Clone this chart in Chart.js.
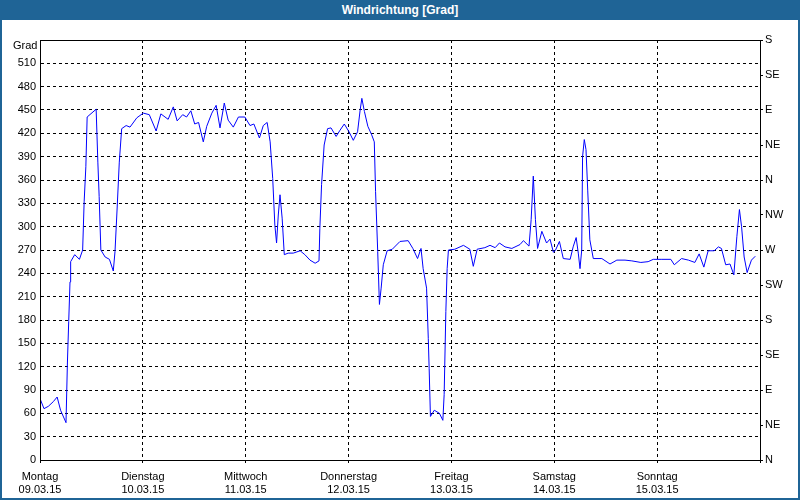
<!DOCTYPE html>
<html>
<head>
<meta charset="utf-8">
<script src="https://cdn.jsdelivr.net/npm/chart.js@4"></script>
<style>
  body { margin: 0; background: #fff; }
  #wrap { position: relative; width: 800px; height: 500px; overflow: hidden; }
  #chart { position: absolute; left: 0; top: 0; }
  #title { position: absolute; left: 0; top: 0; width: 800px; height: 20px; background: #1f6496; color: #fff;
    font: bold 12px "Liberation Sans", Arial, sans-serif; line-height: 20px; text-align: center; }
  #frame { position: absolute; left: 0; top: 0; width: 800px; height: 500px; box-sizing: border-box;
    border: 2px solid #1f6496; border-top: none; pointer-events: none; }
  #unit { position: absolute; left: 13px; top: 39px; font: 11px "Liberation Sans", Arial, sans-serif; color: #000; }
</style>
</head>
<body>
<div id="wrap">
  <canvas id="chart" width="800" height="500"></canvas>
  <div id="title">Windrichtung [Grad]</div>
  <div id="unit">Grad</div>
  <div id="frame"></div>
</div>
<script>
const dayNames = ["Montag", "Dienstag", "Mittwoch", "Donnerstag", "Freitag", "Samstag", "Sonntag"];
const dates = ["09.03.15", "10.03.15", "11.03.15", "12.03.15", "13.03.15", "14.03.15", "15.03.15"];
const compassLabels = ["N", "NE", "E", "SE", "S", "SW", "W", "NW", "N", "NE", "E", "SE", "S"];

// hours since Monday 00:00
const hours = [
  0, 0.93, 1.94, 3.1, 4.0, 4.8, 6.07, 6.4, 6.7, 7.0, 7.15, 8.1, 9.2, 9.95, 10.3, 10.7, 11.0,
  13.1, 13.5, 13.8, 14.2, 15.2, 16.2, 17.1, 17.5, 18.0, 18.5, 19.06, 20.1, 21, 22.6, 24.1,
  25.5, 27.1, 28.2, 29.9, 31.1, 32.0, 33.3, 34.2, 35.2, 36.1, 37.0, 38.1, 38.9, 40.1, 41.1,
  42, 43.0, 43.9, 45.1, 46.3, 47.8, 49.0, 49.9, 51.2, 52.1, 53.0, 53.7, 54.3, 54.8, 55.2,
  55.6, 56.0, 56.5, 57.0, 57.9, 59.1, 60.7, 61.8, 63, 64.2, 65.1, 65.3, 65.7, 66.3, 67.1,
  67.9, 69.1, 70, 71, 72.1, 73.1, 74.1, 74.7, 75.1, 75.7, 76.5, 77.4, 78.0, 78.3, 78.8,
  79.2, 79.6, 80.1, 81.0, 82.2, 84, 85.9, 87, 88.1, 88.9, 89.4, 90.2, 90.6, 90.8, 91.1,
  92, 93.2, 94.0, 94.3, 94.7, 95, 95.3, 96.8, 98.8, 100.3, 101.1, 102, 103.8, 105, 106.2,
  107.2, 108.5, 110.1, 112, 112.8, 114.1, 114.6, 115.1, 115.6, 116.1, 117.1, 118.2, 119,
  119.8, 120.3, 121.2, 122.1, 123.7, 124.4, 125.1, 125.6, 126, 126.4, 126.6, 127, 127.4,
  127.8, 128.3, 129.1, 131.1, 133, 134.6, 136.5, 138.1, 140.2, 141.9, 143.1, 145.1, 147.2,
  148, 149.7, 151.3, 152.8, 153.8, 154.9, 155.9, 157.3, 158.3, 159, 160, 161, 161.9, 162.6,
  163.2, 163.7, 164.3, 165, 166, 166.9
];

const degrees = [
  79, 66, 69, 75, 81, 64, 48, 126, 178, 229, 255, 264, 258, 270, 332, 377, 441,
  451, 383, 339, 270, 261, 258, 243, 268, 324, 383, 426, 430, 428, 440, 446,
  444, 423, 445, 438, 454, 436, 444, 441, 449, 432, 434, 409, 429, 446, 456,
  427, 459, 437, 428, 441, 441, 430, 432, 414, 430, 434, 409, 362, 302, 279,
  315, 341, 311, 264, 266, 266, 269, 264, 257, 253, 256, 298, 354, 405, 426,
  427, 416, 424, 432, 422, 411, 422, 450, 465, 448, 429, 418, 409, 345, 268,
  200, 221, 251, 269, 271, 281, 282, 272, 259, 272, 246, 221, 156, 118, 56,
  64, 60, 51, 84, 191, 246, 270, 271, 276, 271, 249, 271, 273, 276, 273,
  279, 274, 272, 277, 282, 275, 309, 365, 309, 272, 294, 279, 284,
  267, 270, 281, 259, 258, 274, 286, 266, 246, 270, 390, 412, 399,
  347, 283, 259, 259, 252, 257, 257, 256, 254, 255, 258, 258, 258,
  251, 259, 257, 254, 265, 248, 269, 269, 274, 272, 251, 252, 238, 287,
  322, 300, 261, 241, 257, 262
];

const fontSpec = { family: "'Liberation Sans', Arial, sans-serif", size: 11 };

const frameBox = {
  id: "frameBox",
  afterDraw(chart) {
    const { ctx, chartArea } = chart;
    ctx.save();
    ctx.strokeStyle = "#000";
    ctx.lineWidth = 1;
    ctx.strokeRect(chartArea.left + 0.5, chartArea.top + 0.5, chartArea.right - chartArea.left, chartArea.bottom - chartArea.top);
    ctx.restore();
  },
};

new Chart(document.getElementById("chart"), {
  type: "line",
  data: {
    datasets: [
      {
        data: hours.map((h, i) => ({ x: h, y: degrees[i] })),
        borderColor: "#0000ff",
        borderWidth: 1,
        pointRadius: 0,
        tension: 0,
        fill: false,
      },
    ],
  },
  options: {
    responsive: false,
    animation: false,
    layout: { padding: { top: 40, left: 0, right: 0, bottom: 0 } },
    plugins: { legend: { display: false }, tooltip: { enabled: false } },
    scales: {
      x: {
        type: "linear",
        min: 0,
        max: 168,
        afterFit: (scale) => { scale.height = 40; },
        ticks: {
          stepSize: 24,
          autoSkip: false,
          maxRotation: 0,
          color: "#000",
          font: fontSpec,
          padding: 7,
          callback: (value) => {
            const i = Math.round(value / 24);
            return i < dayNames.length ? [dayNames[i], dates[i]] : "";
          },
        },
        grid: { color: "#000", tickColor: "#000", tickLength: 3, tickBorderDash: [] },
        border: { color: "#000", dash: [3, 3] },
      },
      y: {
        position: "left",
        min: 0,
        max: 540,
        afterFit: (scale) => { scale.width = 40; },
        ticks: {
          stepSize: 30,
          color: "#000",
          font: fontSpec,
          padding: 4,
          callback: (value) => (value >= 540 ? "" : String(value)),
        },
        grid: { color: "#000", drawTicks: false },
        border: { color: "#000", dash: [3, 3] },
      },
      y2: {
        position: "right",
        min: 0,
        max: 540,
        afterFit: (scale) => { scale.width = 40; },
        ticks: {
          stepSize: 45,
          color: "#000",
          font: fontSpec,
          padding: 2,
          callback: (value) => compassLabels[Math.round(value / 45)],
        },
        grid: { drawOnChartArea: false, color: "#000", tickColor: "#000", tickLength: 3 },
        border: { color: "#000" },
      },
    },
  },
  plugins: [frameBox],
});
</script>
</body>
</html>
